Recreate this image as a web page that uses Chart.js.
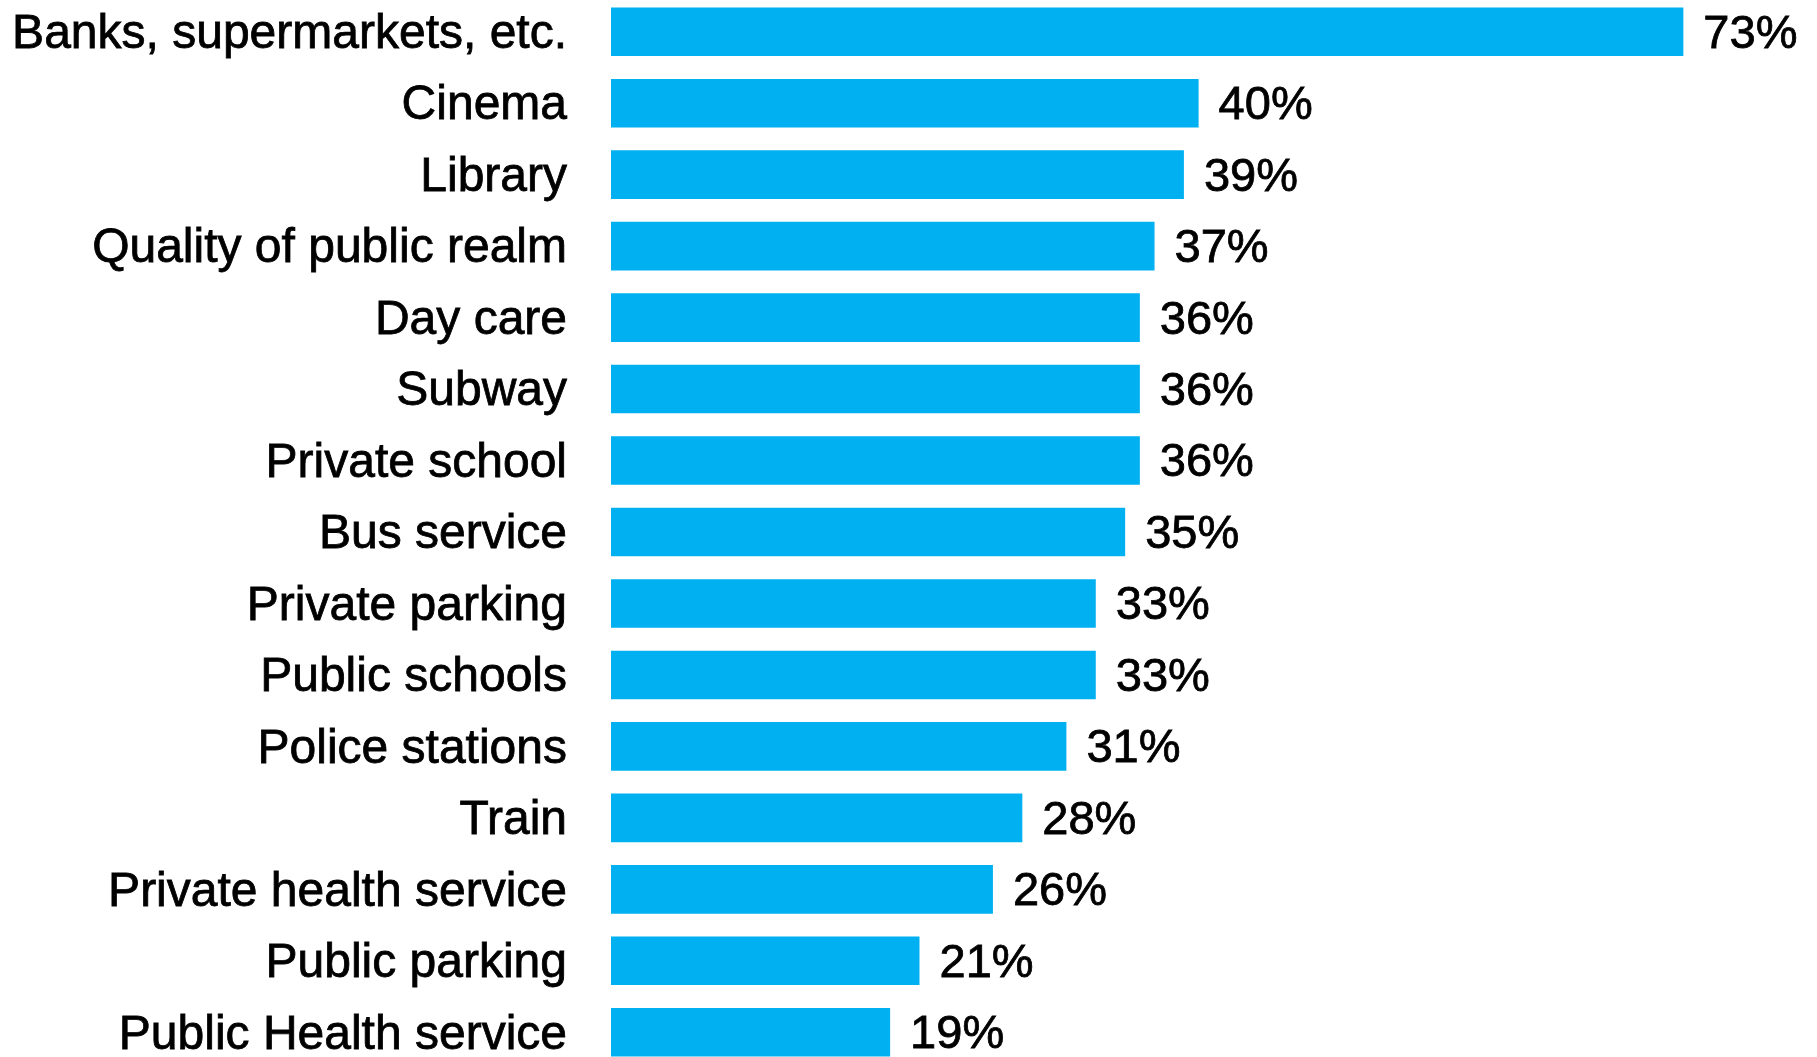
<!DOCTYPE html>
<html>
<head>
<meta charset="utf-8">
<script src="https://cdn.jsdelivr.net/npm/chart.js@4/dist/chart.umd.min.js"></script>
<style>
  html, body { margin: 0; padding: 0; background: #ffffff; overflow: hidden; }
  body { width: 1817px; height: 1057px; position: relative; }
  #wrap { position: absolute; left: 0; top: -4px; width: 1817px; height: 1072px; }
</style>
</head>
<body>
<div id="wrap"><canvas id="chart"></canvas></div>
<script>
// Share of respondents per amenity (%)
const categories = [
  'Banks, supermarkets, etc.',
  'Cinema',
  'Library',
  'Quality of public realm',
  'Day care',
  'Subway',
  'Private school',
  'Bus service',
  'Private parking',
  'Public schools',
  'Police stations',
  'Train',
  'Private health service',
  'Public parking',
  'Public Health service'
];
const shares = [73, 40, 39, 37, 36, 36, 36, 35, 33, 33, 31, 28, 26, 21, 19];

const BAR_COLOR = '#00B0F0';
const FONT = '"Liberation Sans", Arial, sans-serif';
const LABEL_SIZE = 48;
const VALUE_SIZE = 47;

// Writes "NN%" to the right of each bar
const valueLabels = {
  id: 'valueLabels',
  afterDatasetsDraw(chart) {
    const ctx = chart.ctx;
    const meta = chart.getDatasetMeta(0);
    ctx.save();
    ctx.font = VALUE_SIZE + 'px ' + FONT;
    ctx.fillStyle = '#000000';
    ctx.strokeStyle = '#000000';
    ctx.lineWidth = 0.8;
    ctx.textAlign = 'left';
    ctx.textBaseline = 'middle';
    meta.data.forEach((bar, i) => {
      const txt = shares[i] + '%';
      ctx.fillText(txt, bar.x + 20, bar.y + 3);
      ctx.strokeText(txt, bar.x + 20, bar.y + 3);
    });
    ctx.restore();
  }
};

new Chart(document.getElementById('chart'), {
  type: 'bar',
  data: {
    labels: categories,
    datasets: [{
      data: shares,
      backgroundColor: BAR_COLOR,
      borderWidth: 0,
      barPercentage: 0.68,
      categoryPercentage: 1.0
    }]
  },
  options: {
    indexAxis: 'y',
    responsive: true,
    maintainAspectRatio: false,
    animation: false,
    layout: { padding: { left: 0, right: 33, top: 0, bottom: 0 } },
    plugins: {
      legend: { display: false },
      tooltip: { enabled: false }
    },
    scales: {
      x: {
        display: false,
        min: 0,
        max: 79.85
      },
      y: {
        grid: { display: false, drawTicks: false },
        border: { display: false },
        ticks: {
          color: '#000000',
          padding: 44,
          labelOffset: 3,
          textStrokeColor: '#000000',
          textStrokeWidth: 0.8,
          font: { family: FONT, size: LABEL_SIZE }
        },
        afterFit(scale) {
          // fixed label column; rows use the full canvas height
          scale.width = 611;
          scale.paddingTop = 0;
          scale.paddingBottom = 0;
        }
      }
    }
  },
  plugins: [valueLabels]
});
</script>
</body>
</html>
